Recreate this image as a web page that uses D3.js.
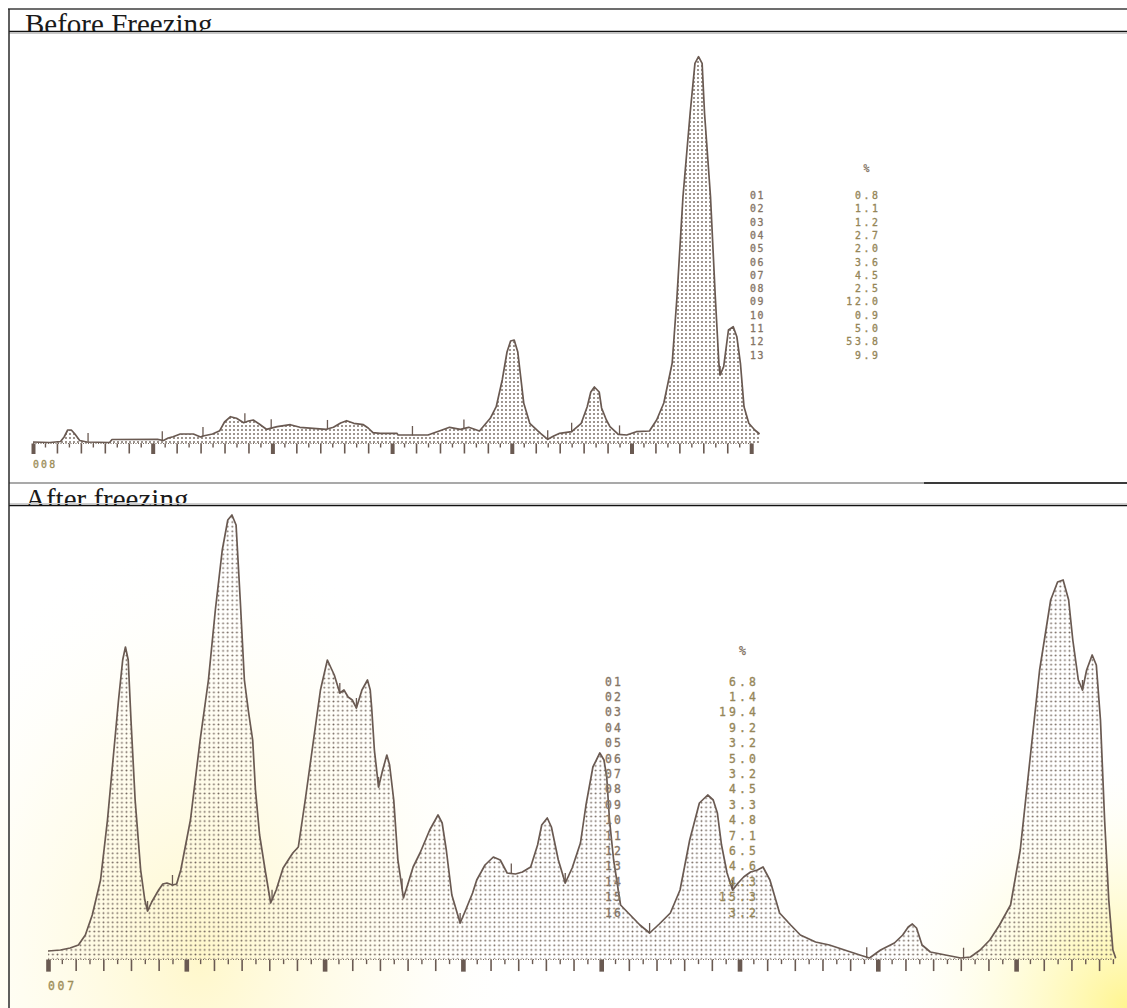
<!DOCTYPE html>
<html>
<head>
<meta charset="utf-8">
<script src="https://cdnjs.cloudflare.com/ajax/libs/d3/7.8.5/d3.min.js"></script>
<style>
   body { margin: 0; background: #fff; }
   svg { display: block; }
</style>
</head>
<body>
<svg id="chart" width="1127" height="1008"></svg>
<script>
// Densitometer scans.
// x = position along the strip (axis units), h = signal height (arbitrary units)
var titles = ["Before Freezing", "After freezing"];
var sampleIds = ["008", "007"];

var beforeX = [0, 1.4, 2.3, 2.6, 2.9, 3.2, 3.5, 3.9, 4.5, 6.4, 6.6, 10.4, 10.9, 11.3, 11.7, 12.3, 13.4, 14.0, 14.2, 15.0,
   15.6, 16.0, 16.5, 17.0, 17.6, 18.0, 18.4, 18.9, 19.5, 20.4, 21.5, 22.3, 24.5, 25.1, 25.7, 26.2, 26.8, 27.6, 28.0, 28.4,
   29.0, 30.4, 30.5, 33.0, 34.0, 34.8, 35.7, 36.4, 37.3, 38.2, 38.7, 39.2, 39.6, 39.9, 40.2, 40.5, 41.0, 41.5, 42.4, 43.0,
   43.5, 44.0, 45.0, 45.8, 46.3, 46.6, 46.9, 47.3, 47.5, 47.9, 48.2, 48.9, 49.6, 50.4, 51.5, 52.1, 52.7, 53.4, 53.8, 54.3,
   54.9, 55.3, 55.6, 55.9, 56.1, 56.6, 57.0, 57.3, 57.4, 57.7, 58.1, 58.5, 58.8, 59.1, 59.4, 59.8, 60.3, 60.7];
var beforeH = [1, 0.5, 1.5, 6, 13, 13, 9, 2.5, 1, 0.5, 3.5, 3.7, 2.5, 5, 6.3, 9, 9, 6, 7, 9,
   12.3, 21, 26.3, 24.7, 20.3, 22, 23, 19, 13.7, 16.3, 18.3, 15.7, 13.7, 15.7, 20, 22.3, 19.7, 18.3, 15, 10.3,
   9.7, 9.7, 8, 8, 12.3, 15.7, 13.7, 15.7, 12, 24.7, 36.3, 63, 91, 102, 103, 91, 39.7, 19.7, 9.7, 3.7,
   7, 9.7, 11.3, 19.7, 36.3, 51, 56, 51, 35, 23, 16.3, 8.7, 8, 11.3, 12, 23, 40, 80, 146.3, 246.3,
   330, 379.7, 386.3, 379.7, 330, 246.3, 146.3, 79.7, 68, 76.3, 113, 116.3, 106.3, 79.7, 36.3, 19.7, 13, 9];
// integration marks between fractions
var beforeMarks = [4.6, 10.8, 14.2, 17.7, 19.9, 24.6, 31.7, 36.0, 43.0, 45.0, 49.0, 57.4];
var beforePct = ["0.8", "1.1", "1.2", "2.7", "2.0", "3.6", "4.5", "2.5", "12.0", "0.9", "5.0", "53.8", "9.9"];

var afterX = [0, 0.9, 1.6, 2.2, 2.7, 3.2, 3.8, 4.3, 4.7, 5.1, 5.4, 5.6, 5.8, 6.0, 6.3, 6.7, 7.0, 7.2, 7.5, 8.0,
   8.3, 8.6, 9.0, 9.3, 9.6, 10.3, 11.0, 11.6, 12.1, 12.6, 13.0, 13.3, 13.6, 13.9, 14.2, 14.5, 14.8, 15.0, 15.3, 15.7,
   16.1, 16.5, 17.0, 17.7, 18.1, 18.6, 19.2, 19.7, 20.2, 20.7, 21.1, 21.4, 21.7, 22.0, 22.3, 22.7, 23.1, 23.3, 23.4, 23.6,
   23.9, 24.2, 24.5, 24.7, 25.0, 25.3, 25.7, 26.0, 26.4, 26.9, 27.6, 28.2, 28.5, 28.8, 29.2, 29.8, 30.2, 30.7, 31.0, 31.6,
   32.2, 32.7, 33.2, 33.8, 34.3, 34.9, 35.4, 35.7, 36.1, 36.4, 36.9, 37.4, 37.9, 38.5, 38.9, 39.4, 39.9, 40.2, 40.4, 40.6,
   40.9, 41.4, 42.1, 42.8, 43.5, 44.2, 45.0, 45.7, 46.4, 47.1, 47.7, 48.1, 48.4, 48.7, 49.1, 49.5, 49.9, 50.3, 50.8, 51.3,
   51.7, 52.2, 52.9, 53.7, 54.4, 55.5, 56.5, 57.6, 58.7, 59.4, 60.2, 61.2, 61.8, 62.2, 62.5, 62.8, 63.2, 63.8, 64.9, 66.0,
   66.7, 67.4, 68.1, 68.8, 69.6, 70.3, 71.0, 71.7, 72.5, 73.0, 73.4, 73.8, 74.1, 74.5, 74.8, 75.1, 75.5, 75.8, 76.1, 76.4,
   76.7, 77.0, 77.2];
var afterH = [8, 9, 11, 14, 24, 44, 79, 139, 199, 259, 299, 312, 299, 239, 159, 89, 59, 48, 57, 69,
   75, 76, 74, 75, 89, 139, 219, 279, 349, 409, 439, 444, 434, 359, 279, 247, 219, 169, 124, 89,
   56, 69, 91, 106, 112, 159, 219, 269, 299, 284, 266, 269, 262, 259, 251, 269, 279, 269, 252, 209,
   172, 189, 204, 194, 159, 99, 61, 74, 92, 106, 129, 144, 136, 109, 64, 36, 49, 66, 79, 94,
   102, 99, 86, 85, 87, 92, 114, 134, 141, 132, 99, 76, 91, 116, 154, 192, 206, 199, 182, 139,
   99, 54, 44, 34, 26, 35, 46, 69, 119, 156, 164, 159, 146, 114, 86, 69, 76, 82, 87, 89,
   92, 79, 46, 34, 24, 17, 14, 9, 4, 1, 9, 16, 24, 32, 35, 31, 14, 7, 4, 1,
   2, 9, 19, 34, 54, 109, 199, 289, 359, 377, 379, 359, 319, 279, 269, 289, 304, 294, 239, 139,
   59, 9, 1];
var afterMarks = [7.2, 9.0, 16.2, 21.1, 22.3, 23.9, 25.6, 29.8, 33.5, 37.4, 43.5, 49.5, 59.2, 66.2, 74.8];
var afterPct = ["6.8", "1.4", "19.4", "9.2", "3.2", "5.0", "3.2", "4.5", "3.3", "4.8", "7.1", "6.5", "4.6", "4.3", "15.3", "3.2"];

var ink = "#6a5a52";
var dotInk = "#75685f";
var printInk = "#857566";
var valueInk = "#958658";

window.onload = function() {
   var svg = d3.select("#chart");
   var defs = svg.append("defs");

   addDots(defs, "dotsTop", 4);
   addDots(defs, "dotsBot", 4.6);
   addTint(defs);

   // yellowed paper in the lower scan
   svg.append("rect").attr("x", 0).attr("y", 506).attr("width", 1127).attr("height", 502)
      .attr("fill", "url(#tintRight)");
   svg.append("rect").attr("x", 0).attr("y", 506).attr("width", 1127).attr("height", 502)
      .attr("fill", "url(#tintLeft)");

   drawPanel(svg, {
      xs: beforeX, hs: beforeH, marks: beforeMarks, pct: beforePct, id: sampleIds[0],
      x: d3.scaleLinear().domain([0, 60]).range([33, 751.2]),
      y: d3.scaleLinear().domain([0, 400]).range([443, 43]),
      nTicks: 60, tickScale: 1, dots: "dotsTop", markLen: 9,
      idxX: 750, pctRight: 879, pctStep: 8.6, idxStep: 7.5, rowY: 195, rowStep: 13.3, fontSize: 11.2,
      idY: 468
   });
   drawPanel(svg, {
      xs: afterX, hs: afterH, marks: afterMarks, pct: afterPct, id: sampleIds[1],
      x: d3.scaleLinear().domain([0, 70]).range([48, 1016.1]),
      y: d3.scaleLinear().domain([0, 450]).range([959, 509]),
      nTicks: 77, tickScale: 1.157, dots: "dotsBot", markLen: 10,
      idxX: 605, pctRight: 757, pctStep: 10, idxStep: 9, rowY: 681, rowStep: 15.4, fontSize: 13,
      idY: 990
   });

   drawFrame(svg);
};

function addDots(defs, name, step) {
   var pat = defs.append("pattern")
      .attr("id", name)
      .attr("patternUnits", "userSpaceOnUse")
      .attr("width", step)
      .attr("height", step);
   pat.append("circle")
      .attr("cx", step / 2)
      .attr("cy", step / 2)
      .attr("r", 0.95)
      .attr("fill", dotInk);
}

function addTint(defs) {
   var g1 = defs.append("radialGradient").attr("id", "tintRight")
      .attr("gradientUnits", "userSpaceOnUse")
      .attr("cx", 1127).attr("cy", 1008).attr("r", 260);
   g1.append("stop").attr("offset", 0).attr("stop-color", "#fff48a").attr("stop-opacity", 0.95);
   g1.append("stop").attr("offset", 0.5).attr("stop-color", "#fffbcc").attr("stop-opacity", 0.55);
   g1.append("stop").attr("offset", 1).attr("stop-color", "#ffffff").attr("stop-opacity", 0);

   var g2 = defs.append("radialGradient").attr("id", "tintLeft")
      .attr("gradientUnits", "userSpaceOnUse")
      .attr("cx", 200).attr("cy", 960).attr("r", 330)
      .attr("gradientTransform", "translate(200,960) scale(1,1.3) translate(-200,-960)");
   g2.append("stop").attr("offset", 0).attr("stop-color", "#fff6c2").attr("stop-opacity", 0.85);
   g2.append("stop").attr("offset", 0.6).attr("stop-color", "#fffbe2").attr("stop-opacity", 0.4);
   g2.append("stop").attr("offset", 1).attr("stop-color", "#ffffff").attr("stop-opacity", 0);
}

function drawPanel(svg, p) {
   var g = svg.append("g");
   var pts = p.xs.map(function(d, i) { return [d, p.hs[i]]; });

   var area = d3.area()
      .x(function(d) { return p.x(d[0]); })
      .y0(p.y(0))
      .y1(function(d) { return p.y(d[1]); });
   var line = d3.line()
      .x(function(d) { return p.x(d[0]); })
      .y(function(d) { return p.y(d[1]); });

   g.append("path").datum(pts)
      .attr("d", area)
      .attr("fill", "url(#" + p.dots + ")");
   g.append("path").datum(pts)
      .attr("d", line)
      .attr("fill", "none")
      .attr("stroke", ink)
      .attr("stroke-width", 1.7)
      .attr("stroke-linejoin", "round");

   // dotted base line
   g.append("line")
      .attr("x1", p.x(0)).attr("x2", p.x(p.nTicks) + 2)
      .attr("y1", p.y(0) + 0.5).attr("y2", p.y(0) + 0.5)
      .attr("stroke", dotInk).attr("stroke-width", 1)
      .attr("stroke-dasharray", "1,1.5");

   // scale: short / long / major ticks hanging under the trace
   var all = d3.range(0, p.nTicks + 1);
   var k = p.tickScale;
   var tiers = [
      { vals: all.filter(function(d) { return d % 2 == 1; }), size: 4 * k, w: 1.4 },
      { vals: all.filter(function(d) { return d % 2 == 0 && d % 10 != 0; }), size: 10 * k, w: 1.6 },
      { vals: all.filter(function(d) { return d % 10 == 0; }), size: 10.5 * k, w: 4 * k }
   ];
   tiers.forEach(function(t) {
      var ax = g.append("g")
         .attr("transform", "translate(0," + (p.y(0) + 0.5) + ")")
         .call(d3.axisBottom(p.x).tickValues(t.vals).tickSize(t.size).tickFormat(""));
      ax.select(".domain").remove();
      ax.selectAll("line").attr("stroke", ink).attr("stroke-width", t.w);
   });

   // marks at fraction boundaries
   var bis = d3.bisector(function(d) { return d[0]; }).left;
   function hAt(x) {
      var i = Math.max(1, Math.min(pts.length - 1, bis(pts, x)));
      var a = pts[i - 1], b = pts[i];
      var t = (x - a[0]) / (b[0] - a[0]);
      return a[1] + (b[1] - a[1]) * t;
   }
   g.selectAll(".mark").data(p.marks).enter().append("line")
      .attr("class", "mark")
      .attr("x1", function(d) { return p.x(d); })
      .attr("x2", function(d) { return p.x(d); })
      .attr("y1", function(d) { return p.y(hAt(d)) - p.markLen; })
      .attr("y2", function(d) { return p.y(hAt(d)) + 0.5; })
      .attr("stroke", ink)
      .attr("stroke-width", 1.3);

   // sample number under the scale
   monoText(g, p.id, p.x(0), p.idY, p.idxStep + 0.6, p.fontSize, "#9c8d58");

   // fraction table
   var capH = p.fontSize * 0.36;
   monoText(g, "%", p.pctRight - p.pctStep * 1.8, p.rowY - p.rowStep * 2 + capH, p.pctStep, p.fontSize, printInk);
   p.pct.forEach(function(v, i) {
      var yy = p.rowY + i * p.rowStep + capH;
      var idx = (i + 1 < 10 ? "0" : "") + (i + 1);
      monoText(g, idx, p.idxX, yy, p.idxStep, p.fontSize, printInk);
      monoText(g, v, p.pctRight - (v.length - 1) * p.pctStep - p.pctStep * 0.8, yy, p.pctStep, p.fontSize, valueInk);
   });
}

// dot-matrix style text, one character per fixed cell
function monoText(g, str, x0, y0, step, size, color) {
   str.split("").forEach(function(ch, j) {
      var cx = x0 + j * step;
      g.append("text")
         .attr("x", cx)
         .attr("y", y0)
         .attr("font-family", "DejaVu Sans Mono, monospace")
         .attr("font-size", size)
         .attr("fill", color)
         .attr("stroke", color)
         .attr("stroke-width", 0.35)
         .attr("transform", "translate(" + cx + "," + y0 + ") scale(0.88,1) translate(" + -cx + "," + -y0 + ")")
         .text(ch);
   });
}

function drawFrame(svg) {
   var defs = svg.select("defs");
   defs.append("clipPath").attr("id", "clipTop")
      .append("rect").attr("x", 10).attr("y", 10).attr("width", 1117).attr("height", 21);
   defs.append("clipPath").attr("id", "clipMid")
      .append("rect").attr("x", 10).attr("y", 484).attr("width", 1117).attr("height", 21);

   // white header cells
   svg.append("rect").attr("x", 9).attr("y", 9).attr("width", 1118).attr("height", 23).attr("fill", "#fff");
   svg.append("rect").attr("x", 9).attr("y", 483).attr("width", 1118).attr("height", 23).attr("fill", "#fff");

   svg.append("text")
      .attr("x", 25).attr("y", 34)
      .attr("clip-path", "url(#clipTop)")
      .attr("font-family", "Liberation Serif, Times New Roman, serif")
      .attr("font-size", 29)
      .attr("fill", "#1a1a1a")
      .text(titles[0]);
   svg.append("text")
      .attr("x", 25).attr("y", 508.5)
      .attr("clip-path", "url(#clipMid)")
      .attr("font-family", "Liberation Serif, Times New Roman, serif")
      .attr("font-size", 29)
      .attr("fill", "#1a1a1a")
      .text(titles[1]);

   var rules = [
      [8, 1127, 9, 9, "#6d6d6d", 2],
      [9, 1127, 31.5, 31.5, "#111", 1.6],
      [9, 1127, 33.5, 33.5, "#c8c8c8", 1],
      [9, 924, 483, 483, "#8c8c8c", 1.5],
      [924, 1127, 483, 483, "#3a3a3a", 2],
      [9, 1127, 503.5, 503.5, "#cfcfcf", 1],
      [9, 1127, 505.5, 505.5, "#111", 1.6],
      [9, 9, 9, 1008, "#2a2a2a", 1.5]
   ];
   rules.forEach(function(r) {
      svg.append("line")
         .attr("x1", r[0]).attr("x2", r[1]).attr("y1", r[2]).attr("y2", r[3])
         .attr("stroke", r[4]).attr("stroke-width", r[5]);
   });
}
</script>
</body>
</html>
